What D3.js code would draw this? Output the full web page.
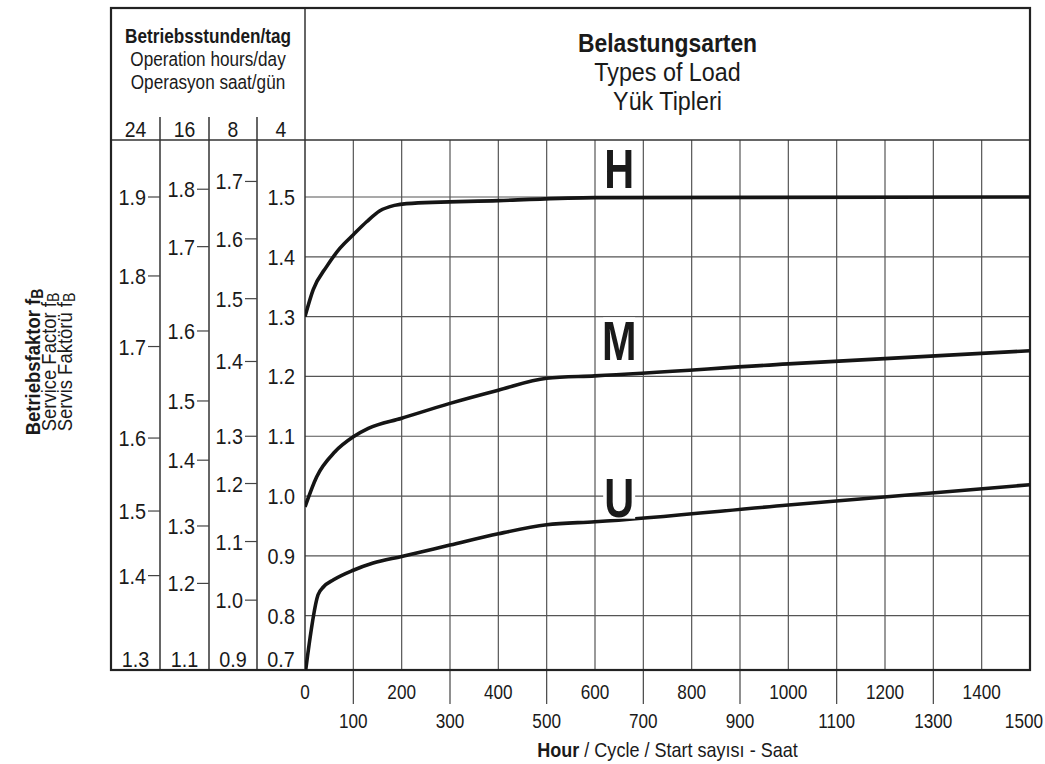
<!DOCTYPE html>
<html>
<head>
<meta charset="utf-8">
<script src="https://cdn.jsdelivr.net/npm/d3@7"></script>
<style>
  body { margin: 0; background: #fff; }
  text { font-family: "Liberation Sans", Arial, Helvetica, sans-serif; fill: #1a1a1a; }
</style>
</head>
<body>
<script>
// DONNEES ------------------------------------------------------------
const xEven = [0, 200, 400, 600, 800, 1000, 1200, 1400];
const xOdd = [100, 300, 500, 700, 900, 1100, 1300, 1500];
const gridHours = [100, 200, 300, 400, 500, 600, 700, 800, 900, 1000, 1100, 1200, 1300, 1400];
const gridFactor = [0.8, 0.9, 1.0, 1.1, 1.2, 1.3, 1.4, 1.5];

const opHours = ["24", "16", "8", "4"];
const colBottom = ["1.3", "1.1", "0.9", "0.7"];

// valeurs lues sur chaque colonne + valeur equivalente sur l'echelle principale
const col24Vals = [1.9, 1.8, 1.7, 1.6, 1.5, 1.4];
const col24Ref = [1.500, 1.368, 1.250, 1.097, 0.975, 0.867];
const col16Vals = [1.8, 1.7, 1.6, 1.5, 1.4, 1.3, 1.2];
const col16Ref = [1.513, 1.417, 1.276, 1.159, 1.060, 0.950, 0.854];
const col8Vals = [1.7, 1.6, 1.5, 1.4, 1.3, 1.2, 1.1, 1.0];
const col8Ref = [1.526, 1.430, 1.330, 1.225, 1.100, 1.021, 0.924, 0.826];
const col4Vals = [1.5, 1.4, 1.3, 1.2, 1.1, 1.0, 0.9, 0.8];

// courbes H / M / U
const hHours = [0, 17, 45, 72, 100, 128, 155, 185, 210, 400, 600, 1500];
const hFactor = [1.30, 1.345, 1.384, 1.414, 1.437, 1.459, 1.477, 1.486, 1.489, 1.494, 1.499, 1.50];
const mHours = [0, 24, 62, 100, 131, 200, 300, 400, 500, 600, 1000, 1500];
const mFactor = [0.982, 1.032, 1.074, 1.099, 1.113, 1.130, 1.155, 1.177, 1.197, 1.201, 1.221, 1.243];
const uHours = [0, 27, 38, 59, 100, 141, 200, 300, 400, 500, 600, 1000, 1500];
const uFactor = [0.70, 0.835, 0.848, 0.860, 0.876, 0.888, 0.899, 0.918, 0.937, 0.952, 0.957, 0.985, 1.019];

// CADRE ------------------------------------------------------------
const largeur = 1045, hauteur = 764;
const cadre = { gauche: 111, haut: 8, droite: 1030, bas: 670 };
const ligneEntete = 140;
const colonnes = [111, 160, 209, 257, 305];
const SX = 0.88; // police un peu condensee

const svg = d3.select("body").append("svg")
  .attr("width", largeur)
  .attr("height", hauteur);

const x = d3.scaleLinear().domain([0, 1500]).range([305, 1030]);
const y = d3.scaleLinear().domain([0.8, 1.5]).range([615.7, 197]);

function texte(parent, px, py, str, taille, opts = {}) {
  const t = parent.append("text")
    .attr("transform", `translate(${px},${py}) scale(${opts.sx || SX},1)`)
    .attr("text-anchor", opts.anchor || "middle")
    .style("font-size", taille + "px")
    .style("font-weight", opts.bold ? "bold" : "normal");
  t.text(str);
  return t;
}

// grille
const grille = svg.append("g");
grille.selectAll(".gv").data(gridHours).join("line")
  .attr("x1", d => x(d)).attr("x2", d => x(d))
  .attr("y1", ligneEntete).attr("y2", cadre.bas)
  .attr("stroke", "#555").attr("stroke-width", 1.2);
grille.selectAll(".gh").data(gridFactor).join("line")
  .attr("x1", x(0)).attr("x2", x(1500))
  .attr("y1", d => y(d)).attr("y2", d => y(d))
  .attr("stroke", "#555").attr("stroke-width", 1.2);

// separations des colonnes
svg.append("g").selectAll("line").data(colonnes.slice(1, 4)).join("line")
  .attr("x1", d => d).attr("x2", d => d)
  .attr("y1", 117).attr("y2", cadre.bas)
  .attr("stroke", "#333").attr("stroke-width", 1.5);
svg.append("line")
  .attr("x1", colonnes[4]).attr("x2", colonnes[4])
  .attr("y1", cadre.haut).attr("y2", cadre.bas)
  .attr("stroke", "#333").attr("stroke-width", 1.5);
svg.append("line")
  .attr("x1", cadre.gauche).attr("x2", cadre.droite)
  .attr("y1", ligneEntete).attr("y2", ligneEntete)
  .attr("stroke", "#333").attr("stroke-width", 1.5);

// graduations x impaires (traits sous le cadre)
svg.append("g").selectAll("line").data(xOdd.filter(d => d < 1500)).join("line")
  .attr("x1", d => x(d)).attr("x2", d => x(d))
  .attr("y1", cadre.bas).attr("y2", 704)
  .attr("stroke", "#444").attr("stroke-width", 1.2);

// cadre
svg.append("rect")
  .attr("x", cadre.gauche).attr("y", cadre.haut)
  .attr("width", cadre.droite - cadre.gauche)
  .attr("height", cadre.bas - cadre.haut)
  .attr("fill", "none").attr("stroke", "#222").attr("stroke-width", 2.2);

// entetes
const centreG = (colonnes[0] + colonnes[4]) / 2;
texte(svg, centreG, 43, "Betriebsstunden/tag", 19.5, { bold: true });
texte(svg, centreG, 66, "Operation hours/day", 19.5);
texte(svg, centreG, 89, "Operasyon saat/gün", 19.5);
opHours.forEach((h, i) => texte(svg, (colonnes[i] + colonnes[i + 1]) / 2, 137, h, 22));

const centreD = (colonnes[4] + cadre.droite) / 2;
texte(svg, centreD, 52, "Belastungsarten", 26, { bold: true });
texte(svg, centreD, 81, "Types of Load", 26.5);
texte(svg, centreD, 110, "Yük Tipleri", 26.5);

// colonnes de gauche
const colonnesData = [
  { vals: col24Vals, ref: col24Ref, tick: true },
  { vals: col16Vals, ref: col16Ref, tick: true },
  { vals: col8Vals, ref: col8Ref, tick: true },
  { vals: col4Vals, ref: col4Vals, tick: false }
];
colonnesData.forEach((c, i) => {
  const droite = colonnes[i + 1];
  const echelle = d3.scaleLinear().domain(c.vals).range(c.ref);
  const g = svg.append("g");
  c.vals.forEach(v => {
    const py = y(echelle(v));
    if (c.tick) {
      g.append("line")
        .attr("x1", droite - 12).attr("x2", droite)
        .attr("y1", py).attr("y2", py)
        .attr("stroke", "#444").attr("stroke-width", 1.2);
    }
    texte(g, c.tick ? droite - 14 : droite - 10, py + 8, v.toFixed(1), 22.5, { anchor: "end" });
  });
  texte(g, (colonnes[i] + droite) / 2, 667, colBottom[i], 22.5);
});

// axe x
xEven.forEach(d => texte(svg, x(d), 699, String(d), 19.5));
xOdd.forEach(d => {
  if (d === 1500) texte(svg, 1043, 728, String(d), 19.5, { anchor: "end" });
  else texte(svg, x(d), 728, String(d), 19.5);
});
const titreX = svg.append("text")
  .attr("transform", `translate(${centreD},757) scale(${SX},1)`)
  .attr("text-anchor", "middle")
  .style("font-size", "20.5px");
titreX.append("tspan").style("font-weight", "bold").text("Hour");
titreX.append("tspan").text(" / Cycle / Start sayısı - Saat");

// titre y
const titresY = [
  { t: "Betriebsfaktor f", bold: true, px: 40 },
  { t: "Service Factor f", bold: false, px: 56 },
  { t: "Servis Faktörü f", bold: false, px: 72 }
];
titresY.forEach(l => {
  const t = svg.append("text")
    .attr("transform", `translate(${l.px},362) rotate(-90) scale(${SX},1)`)
    .attr("text-anchor", "middle")
    .style("font-size", "21px")
    .style("font-weight", l.bold ? "bold" : "normal");
  t.append("tspan").text(l.t);
  t.append("tspan").attr("dy", "0.2em").style("font-size", "16px").text("B");
});

// courbes
svg.append("clipPath").attr("id", "zone")
  .append("rect")
  .attr("x", x(0)).attr("y", ligneEntete)
  .attr("width", x(1500) - x(0)).attr("height", cadre.bas - ligneEntete);

const series = [
  { nom: "H", heures: hHours, facteur: hFactor, ecart: 10 },
  { nom: "M", heures: mHours, facteur: mFactor, ecart: 14 },
  { nom: "U", heures: uHours, facteur: uFactor, ecart: 3 }
];
const ligne = d3.line()
  .x(d => x(d[0]))
  .y(d => y(d[1]))
  .curve(d3.curveMonotoneX);

const courbes = svg.append("g").attr("clip-path", "url(#zone)");
series.forEach(s => {
  courbes.append("path")
    .datum(d3.zip(s.heures, s.facteur))
    .attr("d", ligne)
    .attr("fill", "none")
    .attr("stroke", "#151515")
    .attr("stroke-width", 3.6)
    .attr("stroke-linejoin", "round");
});

// lettres H M U
series.forEach(s => {
  const f = d3.scaleLinear().domain(s.heures).range(s.facteur);
  const base = y(f(650)) - s.ecart;
  svg.append("rect")
    .attr("x", x(650) - 16).attr("y", base - 43)
    .attr("width", 32).attr("height", 45)
    .attr("fill", "#fff");
  texte(svg, x(650), base, s.nom, 56, { bold: true, sx: 0.74 });
});
</script>
</body>
</html>
